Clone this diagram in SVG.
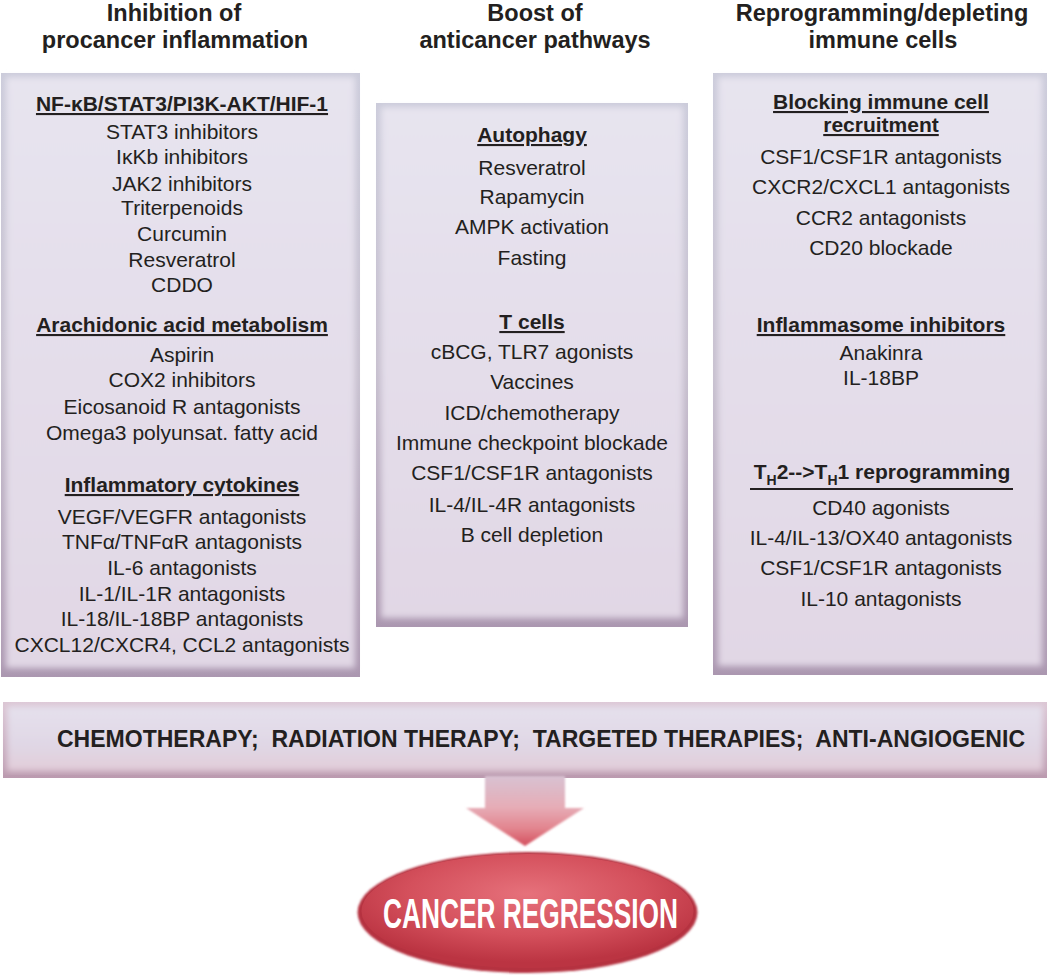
<svg xmlns="http://www.w3.org/2000/svg" width="1050" height="976" viewBox="0 0 1050 976">
<defs>
<style>
.hd{font-family:"Liberation Sans",Arial,sans-serif;font-weight:bold;font-size:23.5px;fill:#231f20;text-anchor:middle}
.t{font-family:"Liberation Sans",Arial,sans-serif;font-size:21px;fill:#231f20;text-anchor:middle}
.u{font-family:"Liberation Sans",Arial,sans-serif;font-size:21px;font-weight:bold;fill:#231f20;text-anchor:middle;text-decoration:underline}
.edge{fill:url(#edgeGrad)}
.inner{fill:url(#innerGrad);filter:url(#soft)}
</style>
<linearGradient id="edgeGrad" x1="0" y1="0" x2="0" y2="1">
<stop offset="0" stop-color="#cbcbda"/>
<stop offset="0.5" stop-color="#c6bfce"/>
<stop offset="1" stop-color="#ab97b0"/>
</linearGradient>
<linearGradient id="innerGrad" x1="0" y1="0" x2="0" y2="1">
<stop offset="0" stop-color="#e7e4ef"/>
<stop offset="1" stop-color="#e1d7e5"/>
</linearGradient>
<linearGradient id="barEdge" x1="0" y1="0" x2="0" y2="1">
<stop offset="0" stop-color="#dcc6d4"/>
<stop offset="1" stop-color="#bb9aaf"/>
</linearGradient>
<linearGradient id="barInner" x1="0" y1="0" x2="0" y2="1">
<stop offset="0" stop-color="#e5e1ed"/>
<stop offset="0.6" stop-color="#e0d7e5"/>
<stop offset="1" stop-color="#e2cdd9"/>
</linearGradient>
<linearGradient id="arrowGrad" x1="0" y1="0" x2="0" y2="1">
<stop offset="0" stop-color="#d8c2d2"/>
<stop offset="0.45" stop-color="#e6acb6"/>
<stop offset="0.75" stop-color="#e2848e"/>
<stop offset="1" stop-color="#d4505e"/>
</linearGradient>
<radialGradient id="ellGrad" cx="0.5" cy="0.35" r="0.6">
<stop offset="0" stop-color="#e6717b"/>
<stop offset="0.6" stop-color="#d4505c"/>
<stop offset="1" stop-color="#bb3442"/>
</radialGradient>
<filter id="soft" x="-5%" y="-5%" width="110%" height="110%">
<feGaussianBlur stdDeviation="3"/>
</filter>
<filter id="soft2" x="-10%" y="-10%" width="120%" height="120%">
<feGaussianBlur stdDeviation="1.2"/>
</filter>
</defs>

<g id="headers">
<text class="hd" x="174" y="21">Inhibition of</text>
<text class="hd" x="175" y="48">procancer inflammation</text>
<text class="hd" x="535" y="21">Boost of</text>
<text class="hd" x="535" y="48">anticancer pathways</text>
<text class="hd" x="882" y="21">Reprogramming/depleting</text>
<text class="hd" x="883" y="48">immune cells</text>
</g>

<g id="box-inflammation">
<rect class="edge" x="1" y="73" width="359" height="604"/>
<rect class="inner" x="6" y="77" width="349" height="591"/>
<text class="u" x="182" y="111">NF-κB/STAT3/PI3K-AKT/HIF-1</text>
<text class="t" x="182" y="139">STAT3 inhibitors</text>
<text class="t" x="182" y="164">IκKb inhibitors</text>
<text class="t" x="182" y="191">JAK2 inhibitors</text>
<text class="t" x="182" y="215">Triterpenoids</text>
<text class="t" x="182" y="241">Curcumin</text>
<text class="t" x="182" y="267">Resveratrol</text>
<text class="t" x="182" y="292">CDDO</text>
<text class="u" x="182" y="332">Arachidonic acid metabolism</text>
<text class="t" x="182" y="362">Aspirin</text>
<text class="t" x="182" y="387">COX2 inhibitors</text>
<text class="t" x="182" y="414">Eicosanoid R antagonists</text>
<text class="t" x="182" y="440">Omega3 polyunsat. fatty acid</text>
<text class="u" x="182" y="492">Inflammatory cytokines</text>
<text class="t" x="182" y="524">VEGF/VEGFR antagonists</text>
<text class="t" x="182" y="549">TNFα/TNFαR antagonists</text>
<text class="t" x="182" y="575">IL-6 antagonists</text>
<text class="t" x="182" y="601">IL-1/IL-1R antagonists</text>
<text class="t" x="182" y="626">IL-18/IL-18BP antagonists</text>
<text class="t" x="182" y="652">CXCL12/CXCR4, CCL2 antagonists</text>
</g>

<g id="box-anticancer">
<rect class="edge" x="376" y="103" width="312" height="524"/>
<rect class="inner" x="381" y="107" width="302" height="511"/>
<text class="u" x="532" y="142">Autophagy</text>
<text class="t" x="532" y="175">Resveratrol</text>
<text class="t" x="532" y="204">Rapamycin</text>
<text class="t" x="532" y="234">AMPK activation</text>
<text class="t" x="532" y="265">Fasting</text>
<text class="u" x="532" y="329">T cells</text>
<text class="t" x="532" y="359">cBCG, TLR7 agonists</text>
<text class="t" x="532" y="389">Vaccines</text>
<text class="t" x="532" y="420">ICD/chemotherapy</text>
<text class="t" x="532" y="450">Immune checkpoint blockade</text>
<text class="t" x="532" y="480">CSF1/CSF1R antagonists</text>
<text class="t" x="532" y="512">IL-4/IL-4R antagonists</text>
<text class="t" x="532" y="542">B cell depletion</text>
</g>

<g id="box-immune">
<rect class="edge" x="713" y="73" width="334" height="602"/>
<rect class="inner" x="718" y="77" width="324" height="589"/>
<text class="u" x="881" y="109">Blocking immune cell</text>
<text class="u" x="881" y="132">recruitment</text>
<text class="t" x="881" y="164">CSF1/CSF1R antagonists</text>
<text class="t" x="881" y="194">CXCR2/CXCL1 antagonists</text>
<text class="t" x="881" y="225">CCR2 antagonists</text>
<text class="t" x="881" y="255">CD20 blockade</text>
<text class="u" x="881" y="332">Inflammasome inhibitors</text>
<text class="t" x="881" y="360">Anakinra</text>
<text class="t" x="881" y="385">IL-18BP</text>
<text class="hd" style="font-size:21px" x="882" y="479">T<tspan font-size="14" dy="6">H</tspan><tspan dy="-6">2--&gt;T</tspan><tspan font-size="14" dy="6">H</tspan><tspan dy="-6">1 reprogramming</tspan></text>
<line x1="750" y1="489" x2="1013" y2="489" stroke="#231f20" stroke-width="2"/>
<text class="t" x="881" y="515">CD40 agonists</text>
<text class="t" x="881" y="545">IL-4/IL-13/OX40 antagonists</text>
<text class="t" x="881" y="575">CSF1/CSF1R antagonists</text>
<text class="t" x="881" y="606">IL-10 antagonists</text>
</g>

<g id="bar-therapies">
<rect x="3" y="702" width="1044" height="76" fill="url(#barEdge)"/>
<rect x="7" y="706" width="1036" height="65" fill="url(#barInner)" filter="url(#soft)"/>
<text x="541" y="747" textLength="968" lengthAdjust="spacingAndGlyphs" style="font-family:'Liberation Sans Narrow','Liberation Sans',Arial,sans-serif;font-weight:bold;font-size:23px;fill:#231f20;text-anchor:middle" xml:space="preserve">CHEMOTHERAPY;  RADIATION THERAPY;  TARGETED THERAPIES;  ANTI-ANGIOGENIC</text>
</g>

<g id="connectors">
<polygon points="485,776 565,776 565,808 584,808 525,846 466,808 485,808" fill="url(#arrowGrad)" filter="url(#soft2)"/>
</g>

<g id="node-regression">
<ellipse cx="527.5" cy="912.5" rx="170" ry="60.5" fill="#b53040" filter="url(#soft2)"/>
<ellipse cx="527.5" cy="911" rx="166" ry="57" fill="url(#ellGrad)"/>
<text x="530.5" y="928" textLength="295" lengthAdjust="spacingAndGlyphs" style="font-family:'Liberation Sans Narrow','Liberation Sans',Arial,sans-serif;font-weight:bold;font-size:42px;fill:#ffffff;text-anchor:middle">CANCER REGRESSION</text>
</g>
</svg>
